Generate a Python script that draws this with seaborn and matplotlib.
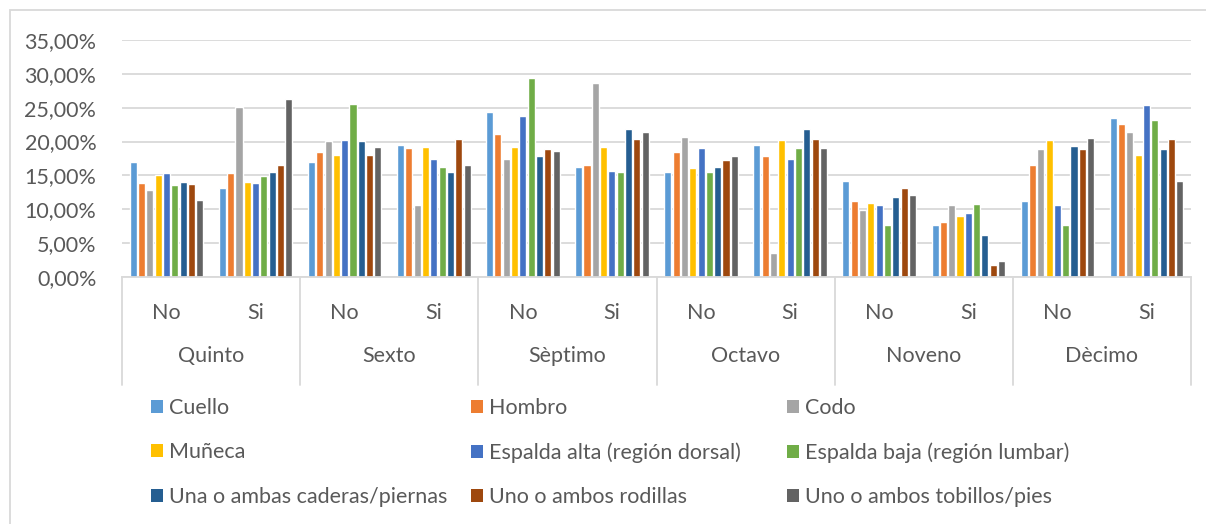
import matplotlib
matplotlib.use("Agg")
import matplotlib.pyplot as plt
import matplotlib.patches as mpatches
import matplotlib.transforms as mtrans
from matplotlib.ticker import FuncFormatter, MultipleLocator
import seaborn as sns
import pandas as pd

grades = ["Quinto", "Sexto", "Sèptimo", "Octavo", "Noveno", "Dècimo"]
answers = ["No", "Si"]
parts = ["Cuello", "Hombro", "Codo", "Muñeca", "Espalda alta (región dorsal)",
         "Espalda baja (región lumbar)", "Una o ambas caderas/piernas",
         "Uno o ambos rodillas", "Uno o ambos tobillos/pies"]
colors = ["#5B9BD5", "#ED7D31", "#A5A5A5", "#FFC000", "#4472C4",
          "#70AD47", "#255E91", "#9E480E", "#636363"]

# values (%) per subgroup, ordered as parts
quinto_no = [17.05, 13.94, 12.90, 15.13, 15.42, 13.64, 14.09, 13.79, 11.42]
quinto_si = [13.20, 15.42, 25.06, 14.09, 13.94, 14.98, 15.57, 16.61, 26.25]
sexto_no = [17.05, 18.39, 20.02, 18.09, 20.17, 25.51, 20.02, 18.09, 19.13]
sexto_si = [19.43, 18.98, 10.68, 19.13, 17.50, 16.31, 15.57, 20.32, 16.61]
septimo_no = [24.32, 21.06, 17.50, 19.13, 23.73, 29.36, 17.94, 18.83, 18.54]
septimo_si = [16.31, 16.61, 28.62, 19.13, 15.72, 15.57, 21.80, 20.32, 21.36]
octavo_no = [15.57, 18.39, 20.61, 16.17, 18.98, 15.57, 16.31, 17.35, 17.94]
octavo_si = [19.43, 17.94, 3.56, 20.17, 17.50, 18.98, 21.80, 20.32, 18.98]
noveno_no = [14.24, 11.27, 9.94, 10.97, 10.68, 7.71, 11.86, 13.20, 12.16]
noveno_si = [7.71, 8.16, 10.68, 9.05, 9.49, 10.83, 6.23, 1.78, 2.37]
decimo_no = [11.27, 16.61, 18.83, 20.17, 10.68, 7.71, 19.28, 18.83, 20.47]
decimo_si = [23.43, 22.54, 21.36, 18.09, 25.36, 23.14, 18.83, 20.32, 14.24]

series = [quinto_no, quinto_si, sexto_no, sexto_si, septimo_no, septimo_si,
          octavo_no, octavo_si, noveno_no, noveno_si, decimo_no, decimo_si]

rows = []
for gi, g in enumerate(grades):
    for ai, a in enumerate(answers):
        vals = series[gi * 2 + ai]
        for p, v in zip(parts, vals):
            rows.append({"cat": f"{g}|{a}", "part": p, "val": v / 100.0})
df = pd.DataFrame(rows)
cats = [f"{g}|{a}" for g in grades for a in answers]

sns.set_theme(style="white")
plt.rcParams['font.family'] = ['Lato', 'DejaVu Sans']
txt = "#595959"
grid = "#D9D9D9"
FS = 15.5

W, H = 1206, 524
fig = plt.figure(figsize=(W / 100, H / 100), dpi=100)
ax = fig.add_axes([122 / W, 1 - 277 / H, (1191 - 122) / W, (277 - 40) / H])

sns.barplot(data=df, x="cat", y="val", hue="part", order=cats, hue_order=parts,
            palette=colors, width=0.84, gap=0.15, ax=ax, legend=False,
            saturation=1, errorbar=None)

ax.set_xlim(-0.5, len(cats) - 0.5)
ax.set_ylim(0, 0.35)
ax.yaxis.set_major_locator(MultipleLocator(0.05))
ax.yaxis.set_major_formatter(FuncFormatter(lambda v, p: f"{v*100:.2f}%".replace(".", ",")))
ax.grid(axis="y", color=grid, linewidth=1.3)
ax.set_axisbelow(True)
for s in ["left", "right", "top"]:
    ax.spines[s].set_visible(False)
ax.spines["bottom"].set_color(grid)
ax.spines["bottom"].set_linewidth(1.3)
ax.tick_params(axis="y", length=0, pad=18.5, labelsize=FS, labelcolor=txt)
ax.set_xticks(range(len(cats)))
ax.set_xticklabels([c.split("|")[1] for c in cats])
ax.tick_params(axis="x", length=0, pad=19, labelsize=FS, labelcolor=txt)
ax.set_xlabel("")
ax.set_ylabel("")

tr = mtrans.blended_transform_factory(ax.transData, ax.transAxes)
for k in range(len(grades) + 1):
    xv = -0.5 + 2 * k
    ax.plot([xv, xv], [0, -(385 - 277) / 237], transform=tr, clip_on=False,
            color=grid, linewidth=1.3)
for gi, g in enumerate(grades):
    ax.text(2 * gi + 0.5, -(356 - 277) / 237, g, transform=tr, ha="center",
            va="center", fontsize=FS, color=txt)

# legend in three columns
handles = [mpatches.Patch(facecolor=c, edgecolor="none", label=p)
           for c, p in zip(colors, parts)]
col_x = [151, 471, 787]
for ci in range(3):
    hs = [handles[ci + 3 * r] for r in range(3)]
    leg = fig.legend(handles=hs, loc="upper left",
                     bbox_to_anchor=(col_x[ci] / W, 1 - 398 / H),
                     frameon=False, fontsize=FS, labelcolor=txt,
                     handlelength=0.55, handleheight=0.55, handletextpad=0.3,
                     labelspacing=1.13, borderpad=0, borderaxespad=0)

# chart frame
fig.patches.append(mpatches.Rectangle((10 / W, -0.05), 1.2, 1 - 10 / H + 0.05,
                                      transform=fig.transFigure, fill=False,
                                      edgecolor=grid, linewidth=1.3))

fig.savefig("out.png", dpi=100)
